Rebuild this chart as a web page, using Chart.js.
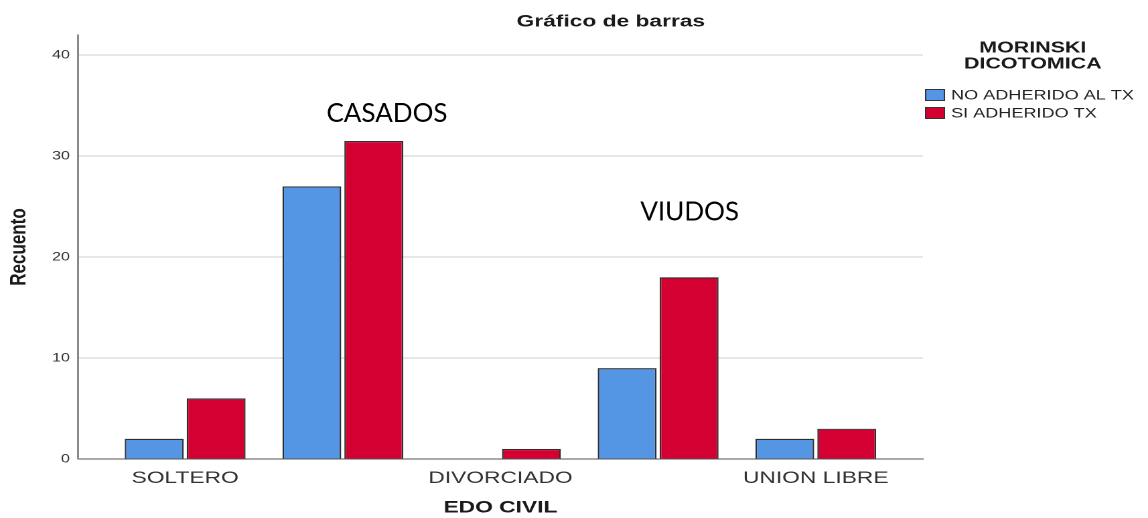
<!DOCTYPE html>
<html>
<head>
<meta charset="utf-8">
<script src="https://cdn.jsdelivr.net/npm/chart.js@4"></script>
<style>
  html, body { margin: 0; padding: 0; background: #fff; overflow: hidden; }
  /* the SPSS export is stretched sideways, so draw narrow and stretch */
  #wrap { width: 857px; height: 518px; transform: scaleX(1.33956); transform-origin: 0 0; }
</style>
</head>
<body>
<div id="wrap"><canvas id="chart"></canvas></div>
<script>
const categories = ['SOLTERO', 'CASADO', 'DIVORCIADO', 'VIUDO', 'UNION LIBRE'];
const noAdherido = [2, 27, 0, 9, 2];
const siAdherido = [6, 31.5, 1, 18, 3];
const yTicks = [0, 10, 20, 30, 40];
const seriesNames = ['NO ADHERIDO AL TX', 'SI ADHERIDO TX'];
const legendTitle = ['MORINSKI', 'DICOTOMICA'];
const noteTexts = ['CASADOS', 'VIUDOS'];
const noteAt = [[1.28, 34.2], [3.2, 24.45]];

const STRETCH = 1148 / 857;
const FONT = "'Liberation Sans', Arial, sans-serif";

const toPoints = (vals) => vals.map((v, i) => ({ x: i, y: v }));

// title, legend and the two hand-typed notes
const extras = {
  id: 'extras',
  afterDraw(chart) {
    const ctx = chart.ctx;
    const area = chart.chartArea;
    ctx.save();
    ctx.fillStyle = '#1a1a1a';
    ctx.textAlign = 'center';
    ctx.textBaseline = 'middle';
    ctx.font = `bold 17px ${FONT}`;
    ctx.fillText('Gráfico de barras', 456, 22);

    // legend
    ctx.font = `bold 16px ${FONT}`;
    legendTitle.forEach((t, i) => ctx.fillText(t, area.right + 82, 48 + i * 16));
    ctx.textAlign = 'left';
    ctx.font = `13.5px ${FONT}`;
    chart.data.datasets.forEach((ds, i) => {
      const y = 95 + i * 18;
      ctx.fillStyle = ds.backgroundColor;
      ctx.fillRect(area.right + 2, y - 5.5, 14, 11);
      ctx.strokeStyle = '#333';
      ctx.lineWidth = 1;
      ctx.strokeRect(area.right + 2, y - 5.5, 14, 11);
      ctx.fillStyle = '#222';
      ctx.fillText(ds.label, area.right + 21, y + 1);
    });

    // notes were typed on top of the stretched picture, so undo the stretch
    const xs = chart.scales.x, ys = chart.scales.y;
    ctx.fillStyle = '#000';
    ctx.textAlign = 'center';
    ctx.font = "26px Lato, 'Open Sans', sans-serif";
    noteTexts.forEach((t, i) => {
      ctx.save();
      ctx.translate(xs.getPixelForValue(noteAt[i][0]), ys.getPixelForValue(noteAt[i][1]));
      ctx.scale(1 / STRETCH, 1);
      ctx.fillText(t, 0, 0);
      ctx.restore();
    });
    ctx.restore();
  }
};

new Chart(document.getElementById('chart'), {
  type: 'bar',
  data: {
    datasets: [
      {
        label: seriesNames[0],
        data: toPoints(noAdherido),
        backgroundColor: '#5596e4',
        borderColor: '#2e2e2e',
        borderWidth: 1.2,
      },
      {
        label: seriesNames[1],
        data: toPoints(siAdherido),
        backgroundColor: '#d50032',
        borderColor: '#2e2e2e',
        borderWidth: 1.2,
      },
    ],
  },
  options: {
    responsive: true,
    maintainAspectRatio: false,
    devicePixelRatio: 2,
    animation: false,
    categoryPercentage: 0.786,
    barPercentage: 0.95,
    layout: { padding: { top: 35, right: 168, bottom: 0, left: 0 } },
    plugins: {
      legend: { display: false },
      tooltip: { enabled: false },
      title: { display: false },
    },
    scales: {
      x: {
        type: 'linear',
        offset: false,
        min: -0.68,
        max: 4.68,
        afterBuildTicks: (s) => { s.ticks = categories.map((c, i) => ({ value: i })); },
        afterFit: (s) => { s.height = 59; },
        grid: { display: false, drawTicks: false },
        border: { display: true, color: '#555', width: 1 },
        ticks: {
          autoSkip: false,
          maxRotation: 0,
          padding: 9,
          color: '#333',
          font: { family: FONT, size: 17 },
          callback: (v) => (v % 2 === 0 ? categories[v] : ''),
        },
        title: {
          display: true,
          text: 'EDO CIVIL',
          color: '#1a1a1a',
          font: { family: FONT, size: 17, weight: 'bold' },
          padding: { top: 2, bottom: 0 },
        },
      },
      y: {
        min: 0,
        max: 42,
        afterBuildTicks: (s) => { s.ticks = yTicks.map((v) => ({ value: v })); },
        afterFit: (s) => { s.width = 58.2; },
        grid: {
          drawTicks: false,
          color: (c) => (c.tick && c.tick.value === 0 ? 'rgba(0,0,0,0)' : '#cfcfcf'),
          lineWidth: 1,
        },
        border: { display: true, color: '#8a8a8a', width: 1.5 },
        ticks: {
          padding: 6,
          color: '#333',
          font: { family: FONT, size: 12 },
        },
        title: {
          display: true,
          text: 'Recuento',
          color: '#1a1a1a',
          font: { family: FONT, size: 17, weight: 'bold' },
          padding: { top: 4, bottom: 0 },
        },
      },
    },
  },
  plugins: [extras],
});
</script>
</body>
</html>
